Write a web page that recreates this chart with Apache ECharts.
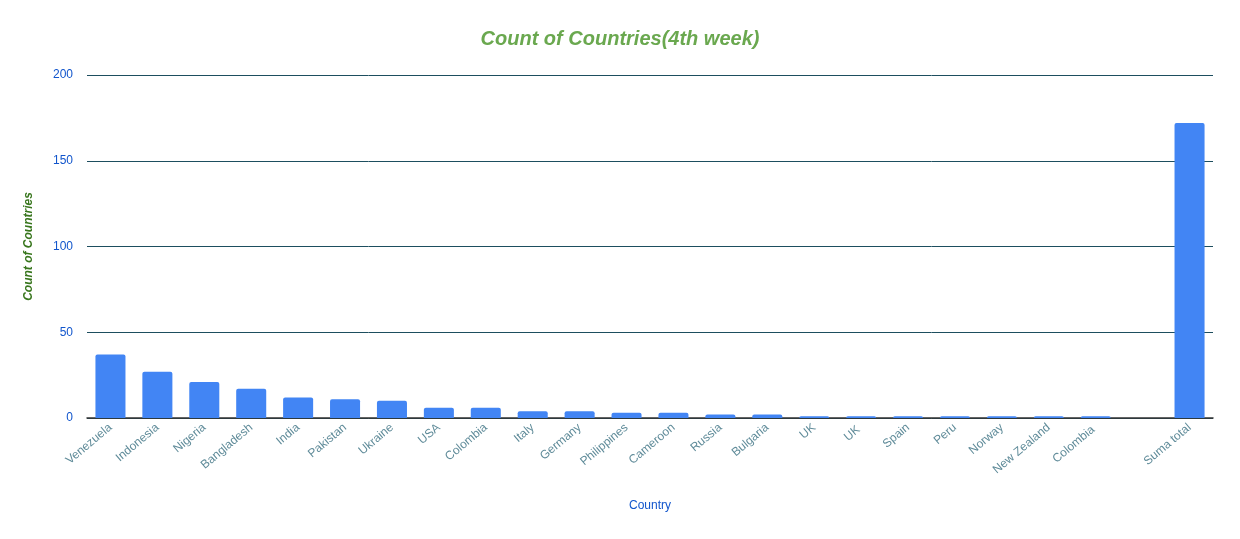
<!DOCTYPE html>
<html>
<head>
<meta charset="utf-8">
<script src="https://cdn.jsdelivr.net/npm/echarts@6/dist/echarts.min.js"></script>
<style>html,body{margin:0;padding:0;background:#fff}#main{width:1240px;height:539px}</style>
</head>
<body>
<div id="main"></div>
<script>
var countries = ['Venezuela', 'Indonesia', 'Nigeria', 'Bangladesh', 'India', 'Pakistan', 'Ukraine', 'USA', 'Colombia', 'Italy', 'Germany', 'Philippines', 'Cameroon', 'Russia', 'Bulgaria', 'UK', 'UK ', 'Spain', 'Peru', 'Norway', 'New Zealand', 'Colombia ', '', 'Suma total'];
var counts = [37, 27, 21, 17, 12, 11, 10, 6, 6, 4, 4, 3, 3, 2, 2, 1, 1, 1, 1, 1, 1, 1, null, 172];
var yTicks = [0, 50, 100, 150, 200];

var myChart = echarts.init(document.getElementById('main'));
var option = {
	title : {
		text : 'Count of Countries(4th week)',
		left : 'center',
		top : 24,
		textStyle : {
			color : '#6aa84f',
			fontSize : 20,
			fontWeight : 'bold',
			fontStyle : 'italic',
			fontFamily : 'Arial, Liberation Sans'
		}
	},
	grid : {
		left : 87,
		right : 27,
		top : 75,
		bottom : 121
	},
	xAxis : {
		type : 'category',
		data : countries,
		name : 'Country',
		nameLocation : 'middle',
		nameGap : 82,
		nameTextStyle : { color : '#1155cc', fontSize : 12, fontFamily : 'Arial, Liberation Sans' },
		axisLine : { lineStyle : { color : '#333', width : 1.5 } },
		axisTick : { show : false },
		axisLabel : {
			rotate : 40,
			interval : 0,
			color : '#5f8b99',
			fontSize : 12,
			fontFamily : 'Arial, Liberation Sans',
			margin : 8
		}
	},
	yAxis : {
		type : 'value',
		min : yTicks[0],
		max : yTicks[yTicks.length - 1],
		interval : 50,
		name : 'Count of Countries',
		nameLocation : 'middle',
		nameGap : 52,
		nameTextStyle : { color : '#38761d', fontSize : 12, fontWeight : 'bold', fontStyle : 'italic', fontFamily : 'Arial, Liberation Sans' },
		axisLine : { show : false },
		axisTick : { show : false },
		axisLabel : { color : '#1155cc', fontSize : 12, fontFamily : 'Arial, Liberation Sans', margin : 14 },
		splitLine : { lineStyle : { color : '#1d4e5f', width : 1 } }
	},
	series : [ {
		type : 'bar',
		data : counts,
		barWidth : '64%',
		itemStyle : { color : '#4285f4', borderRadius : [2, 2, 0, 0] }
	} ]
};
myChart.setOption(option);
</script>
</body>
</html>
